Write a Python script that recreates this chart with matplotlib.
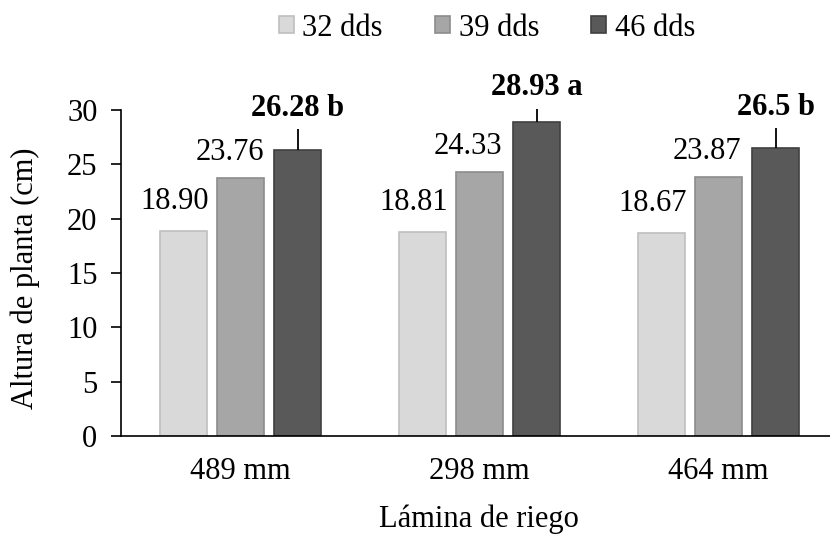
import numpy as np
import matplotlib.pyplot as plt

# data
laminas = ['489 mm', '298 mm', '464 mm']
series = ['32 dds', '39 dds', '46 dds']
dds32 = [18.90, 18.81, 18.67]
dds39 = [23.76, 24.33, 23.87]
dds46 = [26.28, 28.93, 26.50]
err46 = [1.93, 1.20, 1.84]
labels46 = ['26.28 b', '28.93 a', '26.5 b']

plt.rcParams['font.family'] = 'Liberation Serif'
plt.rcParams['font.size'] = 22

fig = plt.figure(figsize=(8.3, 5.35), dpi=100)
ax = fig.add_axes([121 / 830, 1 - 436 / 535, 1 - 121 / 830, (436 - 110) / 535])

x = np.arange(len(laminas))
w = 0.197
off = 0.24
fills = ['#d9d9d9', '#a6a6a6', '#595959']
edges = ['#bfbfbf', '#8c8c8c', '#404040']

b1 = ax.bar(x - off, dds32, w, color=fills[0], edgecolor=edges[0], linewidth=1.2, label=series[0])
b2 = ax.bar(x, dds39, w, color=fills[1], edgecolor=edges[1], linewidth=1.2, label=series[1])
b3 = ax.bar(x + off, dds46, w, color=fills[2], edgecolor=edges[2], linewidth=1.2, label=series[2])

# only upward error bars on the last series
eb = ax.errorbar(x + off, dds46, yerr=[np.zeros(3), err46], fmt='none',
                 ecolor='black', elinewidth=1.3, capsize=0)
for art in eb.lines[2]:
    art.set_clip_on(False)

# value labels (offsets in points, dpi 100)
for i in range(3):
    ax.annotate('%.2f' % dds32[i], (x[i] - off, dds32[i]), xytext=(-6, 21),
                textcoords='offset points', ha='center', va='center', annotation_clip=False)
    ax.annotate('%.2f' % dds39[i], (x[i], dds39[i]), xytext=(-8, 18),
                textcoords='offset points', ha='center', va='center', annotation_clip=False)
    ax.annotate(labels46[i], (x[i] + off, dds46[i] + err46[i]), xytext=(0, 15),
                textcoords='offset points', ha='center', va='center',
                fontweight='bold', annotation_clip=False)

ax.set_ylim(0, 30)
ax.set_yticks(range(0, 31, 5))
ax.set_xlim(-0.5, -0.5 + 709 / 239)
ax.set_xticks(x)
ax.set_xticklabels(laminas)
ax.tick_params(axis='x', length=0, pad=15)
ax.tick_params(axis='y', length=7, width=1.2, pad=10, direction='out')

for s in ['top', 'right']:
    ax.spines[s].set_visible(False)
ax.spines['left'].set_linewidth(1.2)
ax.spines['bottom'].set_linewidth(1.2)

fig.text(25 / 830, 1 - 278 / 535, 'Altura de planta (cm)', rotation=90,
         ha='center', va='center')
fig.text(479 / 830, 8 / 535, 'Lámina de riego', ha='center', va='baseline')

fig.legend(handles=[b1, b2, b3], labels=series, loc='center',
           bbox_to_anchor=(487 / 830, 1 - 28 / 535), ncol=3, frameon=False,
           handlelength=0.5, handleheight=0.5, handletextpad=0.28,
           columnspacing=1.7, borderaxespad=0, borderpad=0)

fig.savefig('out.png', dpi=100)
